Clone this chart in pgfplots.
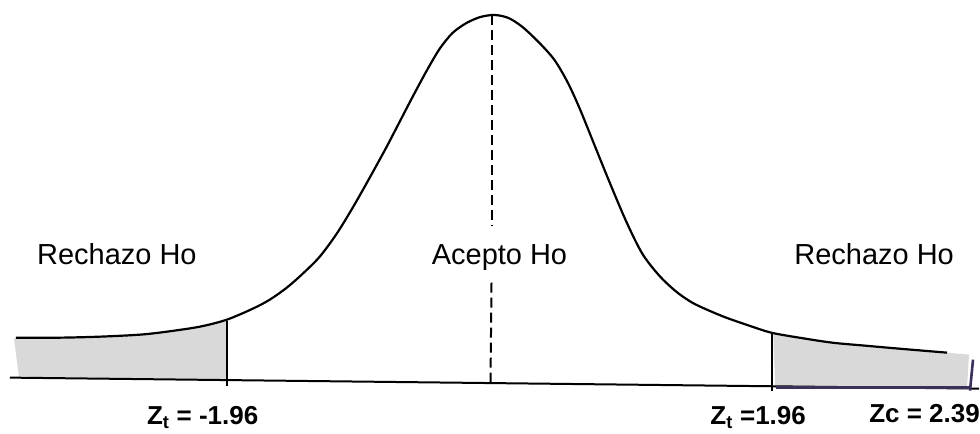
\documentclass[border=0pt]{standalone}
\usepackage{fontspec}
\setmainfont{Liberation Sans}
\usepackage{pgfplots}
\pgfplotsset{compat=1.18}
\definecolor{tailGray}{RGB}{217,217,217}
\definecolor{edgePurple}{RGB}{60,48,92}

\begin{document}
\begin{tikzpicture}
\begin{axis}[width=980pt,height=434pt,scale only axis,hide axis,clip=false,
  xmin=0,xmax=980,ymin=0,ymax=434,y dir=reverse]
% frame of the page
\addplot[draw=none] coordinates {(0,0) (980,434)};
% rejection tails
\addplot[fill=tailGray,draw=none] coordinates {
  (14,339) (60,338) (100,337) (140,335) (167,332) (200,327) (227,321)
  (227,380) (19,377)} -- cycle;
\addplot[fill=tailGray,draw=none] coordinates {
  (774,334) (800,338) (833,343) (866,346) (900,349) (948,353) (970,355)
  (968,388) (776,388)} -- cycle;
% baseline
\addplot[black,line width=2pt] coordinates {(10,378) (980,389)};
% bell curve
\addplot[black,line width=2.2pt,smooth,tension=0.5] coordinates {
  (16,338) (60,338) (100,337) (140,335) (167,332) (200,327) (227,320)
  (253,309) (270,300) (287,288) (303,274) (320,257) (337,234) (353,208)
  (370,178) (387,147) (400,122) (413,97) (427,71) (440,49) (453,33)
  (467,23) (481,17) (495,15) (509,18) (523,27) (540,43) (555,60)
  (568,82) (580,108) (595,145) (610,182) (627,222) (643,254) (660,276)
  (677,292) (693,303) (710,311) (727,318) (750,326) (772,333) (800,338)
  (833,343) (866,346) (900,349) (948,353)};
% critical values
\addplot[black,line width=1.6pt] coordinates {(227,321) (227,386)};
\addplot[black,line width=1.6pt] coordinates {(773,334) (773,391)};
\addplot[edgePurple,line width=3pt] coordinates {(777,388) (970,388)};
\addplot[edgePurple,line width=2.6pt] coordinates {(974,360) (971,391)};
% mean
\addplot[black,line width=2pt,dash pattern=on 10pt off 5pt] coordinates {(492,15) (492,226)};
\addplot[black,line width=2pt,dash pattern=on 10pt off 5pt] coordinates {(492,283) (491,383)};
% labels
\node[anchor=west,font=\fontsize{29}{30}\selectfont,inner sep=0pt] at (axis cs:37,254) {Rechazo Ho};
\node[font=\fontsize{29}{30}\selectfont,inner sep=0pt] at (axis cs:500,258) {Acepto Ho};
\node[font=\fontsize{29}{30}\selectfont,inner sep=0pt] at (axis cs:875,254) {Rechazo Ho};
\node[anchor=west,font=\bfseries\fontsize{26}{27}\selectfont,inner sep=0pt] at (axis cs:147,418) {Z\textsubscript{t} = -1.96};
\node[anchor=west,font=\bfseries\fontsize{26}{27}\selectfont,inner sep=0pt] at (axis cs:711,418) {Z\textsubscript{t} =1.96};
\node[anchor=west,font=\bfseries\fontsize{26}{27}\selectfont,inner sep=0pt,overlay] at (axis cs:870,414) {Zc = 2.39};
\end{axis}
\end{tikzpicture}
\end{document}
